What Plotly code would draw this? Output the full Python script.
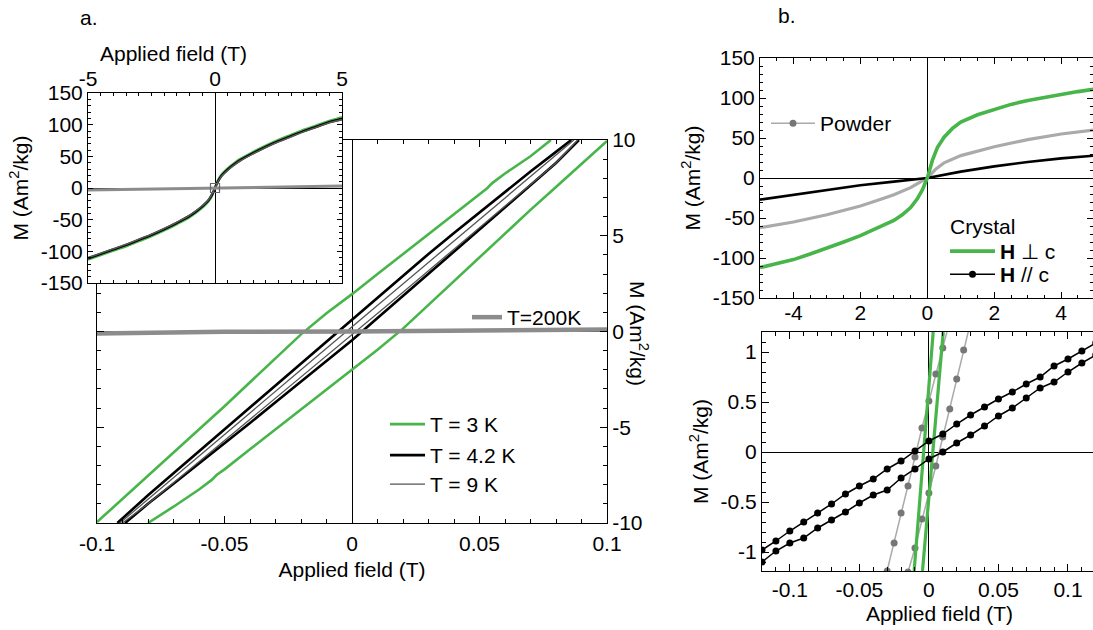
import plotly.graph_objects as go

FONT = "Liberation Sans, Arial, Helvetica, sans-serif"
GREEN = "#47b54a"
BLACK = "#000000"
DARKGRAY = "#555555"
WARM200 = "#8c8c8c"
POWDER_LINE = "#aaaaaa"
POWDER_DOT = "#777777"

W, H = 1093, 630

# ---------------- panel a: low-field loops (main) ----------------
a_h3_up = [-0.100, -0.090, -0.080, -0.070, -0.060, -0.050, -0.040, -0.030, -0.020, -0.010,
           0.000, 0.010, 0.020, 0.030, 0.040, 0.050, 0.053, 0.055, 0.060, 0.070, 0.078]
a_m3_up = [-9.95, -8.75, -7.55, -6.35, -5.15, -3.90, -2.65, -1.40, -0.15, 0.95,
           1.95, 3.00, 4.05, 5.10, 6.15, 7.20, 7.48, 7.75, 8.25, 9.15, 10.0]
a_h3_dn = [-0.080, -0.070, -0.060, -0.055, -0.053, -0.050, -0.040, -0.030, -0.020, -0.010,
           0.000, 0.010, 0.020, 0.030, 0.040, 0.050, 0.060, 0.070, 0.080, 0.090, 0.100]
a_m3_dn = [-10.0, -9.15, -8.25, -7.75, -7.48, -7.20, -6.15, -5.10, -4.05, -3.00,
           -1.95, -0.95, 0.15, 1.40, 2.65, 3.90, 5.15, 6.35, 7.55, 8.75, 9.95]

a_h4_up = [-0.092, -0.080, -0.070, -0.060, -0.050, -0.040, -0.030, -0.020, -0.010, 0.000,
           0.010, 0.020, 0.030, 0.040, 0.050, 0.060, 0.070, 0.080, 0.086]
a_m4_up = [-10.0, -8.55, -7.40, -6.25, -5.12, -3.98, -2.83, -1.67, -0.50, 0.65,
           1.80, 2.93, 4.05, 5.15, 6.23, 7.30, 8.35, 9.38, 10.0]
a_h4_dn = [-0.089, -0.080, -0.070, -0.060, -0.050, -0.040, -0.030, -0.020, -0.010, 0.000,
           0.010, 0.020, 0.030, 0.040, 0.050, 0.060, 0.070, 0.080, 0.089]
a_m4_dn = [-10.0, -9.00, -7.95, -6.90, -5.85, -4.78, -3.70, -2.63, -1.55, -0.46,
           0.70, 1.85, 3.00, 4.15, 5.30, 6.45, 7.60, 8.80, 10.0]

a_h9_up = [-0.091, -0.080, -0.060, -0.040, -0.020, 0.000, 0.020, 0.040, 0.060, 0.080, 0.087]
a_m9_up = [-10.0, -8.75, -6.50, -4.25, -2.00, 0.25, 2.50, 4.75, 7.00, 9.20, 10.0]
a_h9_dn = [-0.090, -0.080, -0.060, -0.040, -0.020, 0.000, 0.020, 0.040, 0.060, 0.080, 0.0885]
a_m9_dn = [-10.0, -9.00, -6.80, -4.60, -2.40, -0.20, 2.05, 4.30, 6.55, 8.80, 10.0]

a_h200 = [-0.100, -0.085, -0.080, -0.050, 0.000, 0.050, 0.100]
a_m200 = [-0.10, -0.08, -0.03, -0.01, 0.00, 0.04, 0.10]

a_xticks = [-0.1, -0.05, 0, 0.05, 0.1]
a_xlabels = ["-0.1", "-0.05", "0", "0.05", "0.1"]
a_yticks = [-10, -5, 0, 5, 10]
a_ylabels = ["-10", "-5", "0", "5", "10"]

# ---------------- panel a: full-field inset ----------------
in_h = [-5, -4.5, -4, -3.5, -3, -2.5, -2, -1.5, -1, -0.75, -0.5, -0.25, -0.1, 0,
        0.1, 0.25, 0.5, 0.75, 1, 1.5, 2, 2.5, 3, 3.5, 4, 4.5, 5]
in_m3 = [-113, -106, -99, -92, -84, -76, -67, -57, -46, -39, -31, -21, -11, 0,
         11, 21, 31, 39, 46, 57, 67, 76, 84, 92, 99, 106, 112]
in_m4 = [-111, -104, -97, -90, -82, -74, -65, -55, -44, -37, -29, -19, -9, 0,
         9, 19, 29, 37, 44, 55, 65, 74, 82, 90, 97, 104, 109]
in_m9 = [-110, -103, -96, -89, -81, -73, -64, -54, -43, -36, -28, -18, -8, 0,
         8, 18, 28, 36, 43, 54, 64, 73, 81, 89, 96, 103, 108]
in_h200 = [-5, -2.5, 0, 2.5, 5]
in_m200 = [-3.0, -1.5, 0.0, 1.5, 3.0]
zoom_box_h = [0]
zoom_box_m = [0]

in_xticks = [-5, 0, 5]
in_xlabels = ["-5", "0", "5"]
in_yticks = [-150, -100, -50, 0, 50, 100, 150]
in_ylabels = ["-150", "-100", "-50", "0", "50", "100", "150"]

# ---------------- panel b: full-field comparison ----------------
b_hg = [-5, -4.5, -4, -3.5, -3, -2.5, -2, -1.5, -1, -0.75, -0.5, -0.3, -0.15, 0,
        0.15, 0.3, 0.5, 0.75, 1, 1.5, 2, 2.5, 3, 3.5, 4, 4.5, 5]
b_mg = [-112, -107, -102, -95, -88, -80, -72, -63, -53, -46, -37, -26, -15, 0,
        22, 38, 51, 62, 70, 79, 86, 92, 97, 101, 105, 108, 111]
b_hp = [-5, -4, -3, -2, -1.5, -1, -0.5, -0.25, 0, 0.25, 0.5, 1, 1.5, 2, 3, 4, 5]
b_mp = [-62, -55, -46, -35, -28, -21, -12, -6, 0, 11, 19, 28, 34, 39, 48, 55, 60]
b_hb = [-5, -4, -3, -2, -1, 0, 1, 2, 3, 4, 5]
b_mb = [-27, -21, -14.5, -9, -4.5, 0, 8, 14.5, 20, 24.5, 28]

b_xticks = [-4, -2, 0, 2, 4]
b_xlabels = ["-4", "2", "0", "2", "4"]
b_yticks = [-150, -100, -50, 0, 50, 100, 150]
b_ylabels = ["-150", "-100", "-50", "0", "50", "100", "150"]

# ---------------- panel b: low-field detail ----------------
c_h = [-0.12, -0.11, -0.10, -0.09, -0.08, -0.07, -0.06, -0.05, -0.04, -0.03, -0.02, -0.01,
       0.00, 0.01, 0.02, 0.03, 0.04, 0.05, 0.06, 0.07, 0.08, 0.09, 0.10, 0.11, 0.12]
c_mb_up = [-0.98, -0.89, -0.79, -0.70, -0.61, -0.52, -0.42, -0.34, -0.27, -0.17, -0.09, 0.01,
           0.11, 0.18, 0.28, 0.37, 0.45, 0.53, 0.60, 0.68, 0.75, 0.86, 0.93, 1.01, 1.09]
c_mb_dn = [-1.10, -0.99, -0.91, -0.86, -0.76, -0.68, -0.60, -0.51, -0.43, -0.38, -0.26, -0.17,
           -0.07, 0.00, 0.09, 0.17, 0.26, 0.36, 0.44, 0.54, 0.64, 0.70, 0.80, 0.89, 0.97]
c_hp_l = [-0.035, -0.030, -0.025, -0.020, -0.015, -0.010, -0.005, 0.000, 0.005, 0.010, 0.015]
c_mp_l = [-1.47, -1.19, -0.91, -0.61, -0.34, -0.05, 0.24, 0.51, 0.78, 1.04, 1.31]
c_hp_r = [-0.020, -0.015, -0.010, -0.005, 0.000, 0.005, 0.010, 0.015, 0.020, 0.025, 0.030]
c_mp_r = [-1.48, -1.20, -0.96, -0.67, -0.41, -0.14, 0.15, 0.43, 0.73, 1.02, 1.30]
c_hg_l = [-0.0106, 0.0031]
c_mg_l = [-1.19, 1.20]
c_hg_r = [-0.0046, 0.0103]
c_mg_r = [-1.19, 1.20]

c_xticks = [-0.1, -0.05, 0, 0.05, 0.1]
c_xlabels = ["-0.1", "-0.05", "0", "0.05", "0.1"]
c_yticks = [-1, -0.5, 0, 0.5, 1]
c_ylabels = ["-1", "-0.5", "0", "0.5", "1"]


def xdom(left, right):
    return [left / W, min(right / W, 1.0)]


def ydom(top, bottom):
    return [1 - bottom / H, 1 - top / H]


fig = go.Figure()


def line(x, y, xa, ya, color, width, name=None, legend=None, show=False, mode="lines",
         marker=None, shape="linear"):
    fig.add_trace(go.Scatter(
        x=x, y=y, xaxis=xa, yaxis=ya, mode=mode, name=name,
        line=dict(color=color, width=width, shape=shape),
        marker=marker, showlegend=show, legend=legend, hoverinfo="skip"))


# panel a main
line(a_h3_up, a_m3_up, "x", "y", GREEN, 2.6, "T = 3 K", "legend", True)
line(a_h3_dn, a_m3_dn, "x", "y", GREEN, 2.6)
line(a_h4_up, a_m4_up, "x", "y", BLACK, 2.6, "T = 4.2 K", "legend6", True)
line(a_h4_dn, a_m4_dn, "x", "y", BLACK, 2.6)
line(a_h9_up, a_m9_up, "x", "y", DARKGRAY, 1.3, "T = 9 K", "legend7", True)
line(a_h9_dn, a_m9_dn, "x", "y", DARKGRAY, 1.3)
line(a_h200, a_m200, "x", "y", WARM200, 4.5, "T=200K", "legend2", True)

# inset
line(in_h, in_m3, "x2", "y2", GREEN, 2.4, shape="spline")
line(in_h, in_m4, "x2", "y2", BLACK, 2.4, shape="spline")
line(in_h, in_m9, "x2", "y2", DARKGRAY, 1.6, shape="spline")
line(in_h200, in_m200, "x2", "y2", WARM200, 3)
line(zoom_box_h, zoom_box_m, "x2", "y2", "#666666", 1, mode="markers",
     marker=dict(symbol="square-open", size=9, color="#666666", line=dict(width=1.2)))

# panel b top
line(b_hp, b_mp, "x3", "y3", POWDER_LINE, 3.2)
line(b_hb, b_mb, "x3", "y3", BLACK, 2.6)
line(b_hg, b_mg, "x3", "y3", GREEN, 3.6, "<b>H</b> \u22a5 c", "legend4", True)

# panel b bottom
dot_p = dict(color=POWDER_DOT, size=7, symbol="circle")
dot_b = dict(color=BLACK, size=7, symbol="circle")
line(c_hp_l, c_mp_l, "x4", "y4", POWDER_LINE, 1.5, "Powder", "legend3", True,
     mode="lines+markers", marker=dot_p)
line(c_hp_r, c_mp_r, "x4", "y4", POWDER_LINE, 1.5, mode="lines+markers", marker=dot_p)
line(c_hg_l, c_mg_l, "x4", "y4", GREEN, 3.2)
line(c_hg_r, c_mg_r, "x4", "y4", GREEN, 3.2)
line(c_h, c_mb_up, "x4", "y4", BLACK, 1.5, "<b>H</b> // c", "legend5", True,
     mode="lines+markers", marker=dot_b)
line(c_h, c_mb_dn, "x4", "y4", BLACK, 1.5, mode="lines+markers", marker=dot_b)

tickfont = dict(family=FONT, size=21, color="black")


def ax(domain, rng, tickvals, ticktext, ticklen, minor_dtick, minor_len, anchor, **kw):
    d = dict(domain=domain, range=rng, anchor=anchor, automargin=False,
             tickmode="array", tickvals=tickvals, ticktext=ticktext,
             ticks="inside", ticklen=ticklen, tickwidth=1, tickcolor="black",
             minor=dict(ticks="inside", dtick=minor_dtick, tick0=0, ticklen=minor_len,
                        tickwidth=1, tickcolor="black", showgrid=False),
             showline=True, linecolor="black", linewidth=1, mirror="ticks",
             showgrid=False, zeroline=True, zerolinecolor="black", zerolinewidth=1,
             tickfont=tickfont, fixedrange=True)
    d.update(kw)
    return d


title_font = dict(family=FONT, size=21, color="black")
ylab = "M (Am<sup>2</sup>/kg)"

fig.update_layout(
    template="none",
    width=W, height=H, margin=dict(l=0, r=0, t=0, b=0, autoexpand=False),
    paper_bgcolor="white", plot_bgcolor="white",
    font=dict(family=FONT, size=21, color="black"),
    xaxis=ax(xdom(97, 607), [-0.1, 0.1], a_xticks, a_xlabels, 7, 0.01, 4, "y",
             ticklabelstandoff=2,
             title=dict(text="Applied field (T)", font=title_font, standoff=8)),
    yaxis=ax(ydom(140, 523), [-10, 10], a_yticks, a_ylabels, 7, 1, 4, "x", side="right"),
    xaxis2=ax(xdom(88, 342), [-5, 5], in_xticks, in_xlabels, 5, 0.5, 3, "y2", side="top",
              ticklabelstandoff=-2),
    yaxis2=ax(ydom(93, 283), [-150, 150], in_yticks, in_ylabels, 5, 10, 3, "x2",
              title=dict(text=ylab, font=title_font, standoff=6)),
    xaxis3=ax(xdom(760, 1093.5), [-5, 4.95], b_xticks, b_xlabels, 6, 0.5, 3, "y3",
              ticklabelstandoff=-4),
    yaxis3=ax(ydom(58, 298), [-150, 150], b_yticks, b_ylabels, 6, 10, 3, "x3",
              title=dict(text=ylab, font=title_font, standoff=6)),
    xaxis4=ax(xdom(762, 1093.5), [-0.12, 0.118], c_xticks, c_xlabels, 7, 0.01, 4, "y4"),
    yaxis4=ax(ydom(332, 571), [-1.19, 1.2], c_yticks, c_ylabels, 7, 0.1, 4, "x4",
              mirror=False,
              title=dict(text=ylab, font=title_font, standoff=6)),
)

legend_common = dict(bgcolor="rgba(0,0,0,0)", borderwidth=0, font=dict(family=FONT, size=21),
                     xanchor="left", yanchor="top", tracegroupgap=0)
fig.update_layout(
    legend=dict(x=385 / W, y=1 - 404 / H, itemwidth=35, **legend_common),
    legend6=dict(x=385 / W, y=1 - 435 / H, itemwidth=35, **legend_common),
    legend7=dict(x=385 / W, y=1 - 464 / H, itemwidth=35, **legend_common),
    legend2=dict(x=467 / W, y=1 - 297 / H, itemwidth=30, **legend_common),
    legend3=dict(x=766 / W, y=1 - 103 / H, itemwidth=44, **legend_common),
    legend4=dict(x=945 / W, y=1 - 231 / H, itemwidth=45, **legend_common),
    legend5=dict(x=945 / W, y=1 - 254 / H, itemwidth=45, **legend_common),
)

annots = [
    dict(text="a.", x=89 / W, y=1 - 17 / H),
    dict(text="b.", x=787 / W, y=1 - 15 / H),
    dict(text="Applied field (T)", x=173 / W, y=1 - 53 / H),
    dict(text=ylab, x=639 / W, y=1 - 333 / H, textangle=90),
    dict(text="Applied field (T)", x=939 / W, y=1 - 613 / H),
    dict(text="Crystal", x=982 / W, y=1 - 226 / H),
]
for a in annots:
    fig.add_annotation(xref="paper", yref="paper", showarrow=False,
                       xanchor="center", yanchor="middle",
                       font=dict(family=FONT, size=21, color="black"), **a)

fig.write_html("out.html")
